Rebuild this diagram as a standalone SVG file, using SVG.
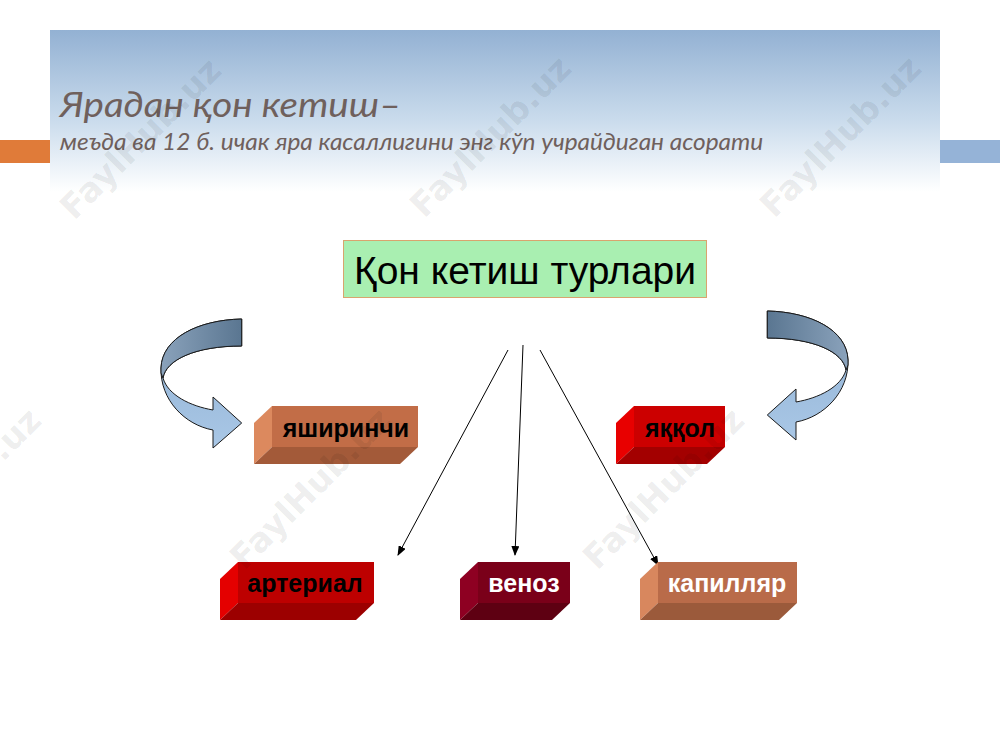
<svg xmlns="http://www.w3.org/2000/svg" width="1000" height="750" viewBox="0 0 1000 750">
<defs>
<linearGradient id="hdr" x1="0" y1="0" x2="0" y2="1">
<stop offset="0" stop-color="#93b1d3"/>
<stop offset="0.55" stop-color="#c9dbec"/>
<stop offset="1" stop-color="#ffffff"/>
</linearGradient>
<linearGradient id="dark" x1="0" y1="0" x2="1" y2="0">
<stop offset="0" stop-color="#8aa2bb"/>
<stop offset="1" stop-color="#5a7691"/>
</linearGradient>
<linearGradient id="light" x1="0" y1="0" x2="0" y2="1">
<stop offset="0" stop-color="#8fb0d2"/>
<stop offset="1" stop-color="#a9c7e6"/>
</linearGradient>
<marker id="ah" markerWidth="10" markerHeight="8" refX="9" refY="4" orient="auto" markerUnits="userSpaceOnUse">
<path d="M0,0 L10,4 L0,8 Z" fill="#000"/>
</marker>
<g id="carrow">
<path d="M241.7,319 C198,320 162,338 161,368 C160,400 185,425 213,430 L213,448 L241.7,423 L213,397 L213,410 C190,406 168,395 163,378 C166,360 195,346 241.7,346 Z" fill="url(#light)" stroke="#1a1a1a" stroke-width="1"/>
<path d="M241.7,319 C198,320 162,338 161,368 L161,373 L163,378 C166,360 195,346 241.7,346 Z" fill="url(#dark)" stroke="#1a1a1a" stroke-width="1"/>
</g>
</defs>
<style>
.t{font-family:"Lato","Open Sans",sans-serif;font-style:italic;fill:#6f605c}
.bt{font-family:"Liberation Sans",Arial,sans-serif;font-weight:bold;font-size:25px}
.wm{font-family:"DejaVu Sans",sans-serif;font-weight:bold;font-size:34px;fill:#000;fill-opacity:0.08}
.con{stroke:#000;stroke-width:1;fill:none;marker-end:url(#ah)}
</style>
<rect width="1000" height="750" fill="#fff"/>
<g id="header">
<rect x="0" y="140" width="50" height="23" fill="#e07b39"/>
<rect x="940" y="140" width="60" height="23" fill="#95b3d7"/>
<rect x="50" y="30" width="890" height="162" fill="url(#hdr)"/>
<text class="t" transform="translate(60,117) scale(1.1,1)" font-size="35">Ярадан қон кетиш–</text>
<text class="t" transform="translate(60,150) scale(1.1,1)" font-size="22.2">меъда ва 12 б. ичак яра касаллигини энг кўп учрайдиган асорати</text>
</g>
<g id="title-node">
<rect x="343.5" y="240.5" width="363" height="57" fill="#a9efb1" stroke="#d9a46e" stroke-width="1"/>
<text x="525" y="284" font-family="Liberation Sans, Arial, sans-serif" font-size="39" text-anchor="middle" fill="#000">Қон кетиш турлари</text>
</g>
<g id="curved-arrows">
<use href="#carrow"/>
<use href="#carrow" transform="translate(1009,-8) scale(-1,1)"/>
</g>
<g id="connectors">
<line class="con" x1="508" y1="350" x2="398" y2="555"/>
<line class="con" x1="523" y1="345" x2="515" y2="555"/>
<line class="con" x1="540" y1="350" x2="658" y2="565"/>
</g>
<g id="yashirinchi">
<polygon points="272,406 418,406 418,447 272,447" fill="#c26d47"/>
<polygon points="272,406 272,447 254,464 254,423" fill="#dc895e"/>
<polygon points="272,447 418,447 400,464 254,464" fill="#a35a39"/>
<text class="bt" x="346" y="437" text-anchor="middle" fill="#000">яширинчи</text>
</g>
<g id="yaqqol">
<polygon points="634,406 725,406 725,447 634,447" fill="#cc0000"/>
<polygon points="634,406 634,447 616,464 616,423" fill="#e80000"/>
<polygon points="634,447 725,447 707,464 616,464" fill="#a30000"/>
<text class="bt" x="680" y="437" text-anchor="middle" fill="#000">яққол</text>
</g>
<g id="arterial">
<polygon points="238,562 374,562 374,603 238,603" fill="#bd0000"/>
<polygon points="238,562 238,603 220,620 220,579" fill="#e40000"/>
<polygon points="238,603 374,603 356,620 220,620" fill="#9c0000"/>
<text class="bt" x="305" y="592" text-anchor="middle" fill="#000">артериал</text>
</g>
<g id="venoz">
<polygon points="478,562 570,562 570,603 478,603" fill="#7a0019"/>
<polygon points="478,562 478,603 460,620 460,579" fill="#8e0022"/>
<polygon points="478,603 570,603 552,620 460,620" fill="#5e0012"/>
<text class="bt" x="524" y="592" text-anchor="middle" fill="#fff">веноз</text>
</g>
<g id="kapillyar">
<polygon points="658,562 797,562 797,603 658,603" fill="#b96b49"/>
<polygon points="658,562 658,603 640,620 640,579" fill="#d8875e"/>
<polygon points="658,603 797,603 779,620 640,620" fill="#9b5a3b"/>
<text class="bt" x="727" y="592" text-anchor="middle" fill="#fff">капилляр</text>
</g>
<g id="watermarks">
<text class="wm" transform="translate(142,140) rotate(-45)" text-anchor="middle" dominant-baseline="middle">FaylHub.uz</text>
<text class="wm" transform="translate(492,138) rotate(-45)" text-anchor="middle" dominant-baseline="middle">FaylHub.uz</text>
<text class="wm" transform="translate(842,138) rotate(-45)" text-anchor="middle" dominant-baseline="middle">FaylHub.uz</text>
<text class="wm" transform="translate(-38,490) rotate(-45)" text-anchor="middle" dominant-baseline="middle">FaylHub.uz</text>
<text class="wm" transform="translate(312,490) rotate(-45)" text-anchor="middle" dominant-baseline="middle">FaylHub.uz</text>
<text class="wm" transform="translate(665,490) rotate(-45)" text-anchor="middle" dominant-baseline="middle">FaylHub.uz</text>
</g>
</svg>
